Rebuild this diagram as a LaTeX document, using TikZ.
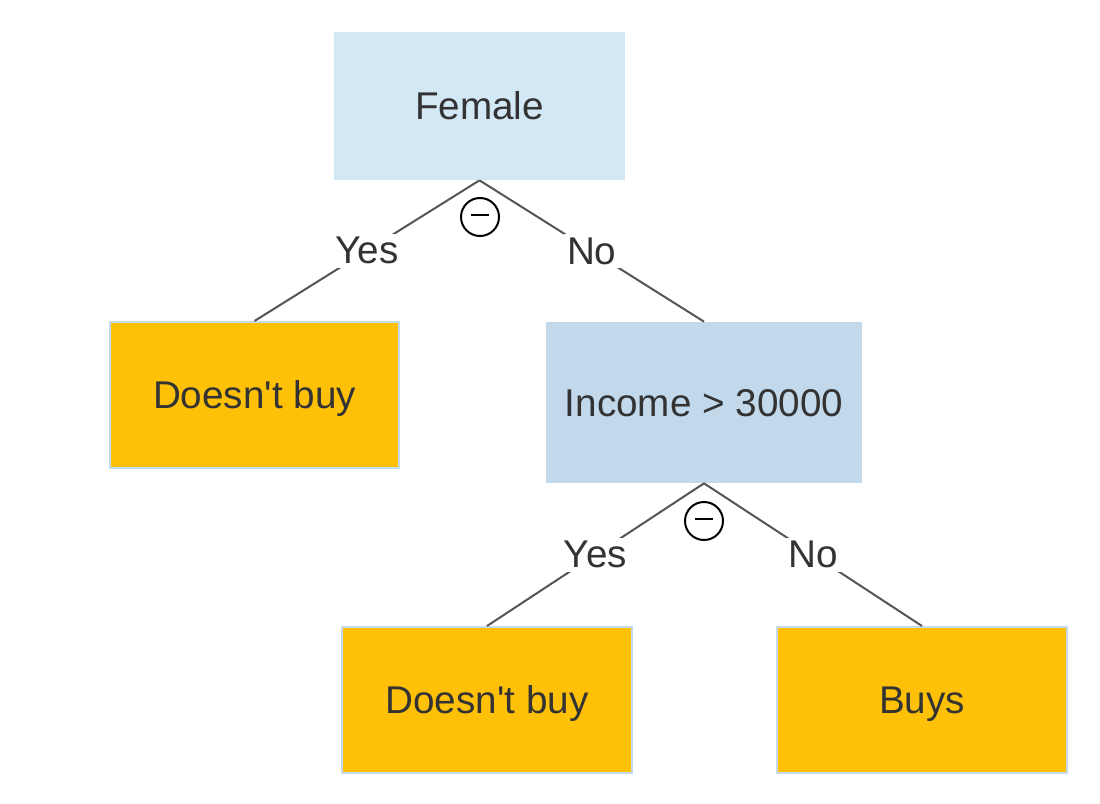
\documentclass[tikz,border=0pt]{standalone}
\usepackage{fontspec}
\setmainfont{Liberation Sans}
\definecolor{rootblue}{HTML}{D2E8F5}
\definecolor{splitblue}{HTML}{C2D8EB}
\definecolor{leafgold}{HTML}{FFC107}
\definecolor{leafedge}{HTML}{C5DAEE}
\definecolor{inkgray}{HTML}{333333}
\definecolor{edgegray}{HTML}{555555}
\tikzset{
  treebox/.style={inner sep=0pt, text=inkgray, text height=15.8pt, text depth=0pt, font=\fontsize{22}{26}\selectfont},
  rootbox/.style={treebox, fill=rootblue, minimum width=5.82cm, minimum height=2.96cm},
  splitbox/.style={treebox, fill=splitblue, minimum width=6.32cm, minimum height=3.22cm},
  leafbox/.style={treebox, fill=leafgold, draw=leafedge, line width=0.04cm, minimum width=5.8cm, minimum height=2.92cm},
  branch/.style={draw=edgegray, line width=0.04cm},
  answer/.style={fill=white, inner sep=2pt, text=inkgray, font=\fontsize{22}{26}\selectfont},
  collapse/.style={circle, draw=black, line width=0.04cm, minimum size=0.76cm, inner sep=0pt}
}
\begin{document}
\begin{tikzpicture}[x=0.02cm, y=-0.02cm]
\useasboundingbox (0,0) rectangle (1100,804);

% nodes
\node[rootbox] (female) at (479.5,106) {Female};
\node[leafbox] (nobuyA) at (254.5,395) {Doesn\textquotesingle t buy};
\node[splitbox] (income) at (704,402.5) {Income > 30000};
\node[leafbox] (nobuyB) at (487,700) {Doesn\textquotesingle t buy};
\node[leafbox] (buys) at (922,700) {Buys};

% branches
\draw[branch] (female.south) -- node[answer]{Yes} (nobuyA.north);
\draw[branch] (female.south) -- node[answer]{No} (income.north);
\draw[branch] (income.south) -- node[answer]{Yes} (nobuyB.north);
\draw[branch] (income.south) -- node[answer]{No} (buys.north);

% collapse markers
\node[collapse] (foldA) at (480,217) {\rule[0.5ex]{0.36cm}{0.04cm}};
\node[collapse] (foldB) at (704,521) {\rule[0.5ex]{0.36cm}{0.04cm}};

\end{tikzpicture}
\end{document}
